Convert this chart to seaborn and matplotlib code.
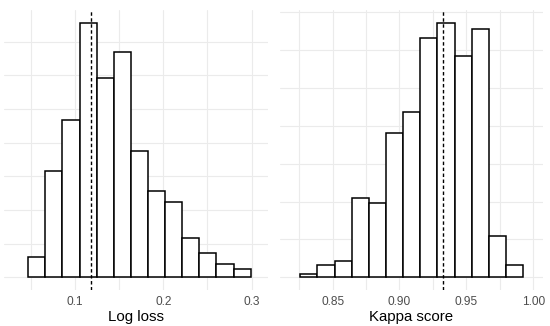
import numpy as np
import pandas as pd
import matplotlib
matplotlib.use("Agg")
import matplotlib.pyplot as plt
import seaborn as sns
from matplotlib.ticker import MultipleLocator, FormatStrFormatter

# Bootstrap distributions (13 bins each, counts)
logloss_range = (0.0469, 0.2991)
logloss_counts = [15, 79, 117, 189, 148, 167, 94, 64, 56, 29, 18, 10, 6]
logloss_mean = 0.1177

kappa_range = (0.8258, 0.9925)
kappa_counts = [2, 8, 11, 52, 49, 95, 109, 158, 168, 146, 164, 27, 8]
kappa_mean = 0.9325

sns.set_theme(style="whitegrid")
plt.rcParams['font.family'] = ['Liberation Sans', 'DejaVu Sans']

W, H = 550, 326
fig = plt.figure(figsize=(W / 100, H / 100), dpi=100)


def px_axes(x0, y0, x1, y1):
    # axes box given in pixels from the top-left corner
    return fig.add_axes([x0 / W, 1 - y1 / H, (x1 - x0) / W, (y1 - y0) / H])


def draw_hist(ax, rng, counts, mean, xlim, major, minor, fmt, label):
    nbins = len(counts)
    width = (rng[1] - rng[0]) / nbins
    centers = [rng[0] + width * (i + 0.5) for i in range(nbins)]
    df = pd.DataFrame({'value': centers, 'count': counts})
    sns.histplot(data=df, x='value', weights='count', bins=nbins, binrange=rng,
                 ax=ax, color='white', edgecolor='black', linewidth=1.1, alpha=1)
    ax.axvline(mean, color='black', lw=1.0, ls=(0, (2.5, 1.8)))
    top = max(counts)
    ax.set_xlim(*xlim)
    ax.set_ylim(-0.05 * top, 1.05 * top)
    ax.xaxis.set_major_locator(MultipleLocator(major))
    ax.xaxis.set_minor_locator(MultipleLocator(minor))
    ax.xaxis.set_major_formatter(FormatStrFormatter(fmt))
    ax.yaxis.set_major_locator(MultipleLocator(50))
    ax.yaxis.set_minor_locator(MultipleLocator(25))
    ax.grid(which='both', color='#EBEBEB', lw=0.8)
    ax.set_axisbelow(True)
    ax.tick_params(axis='y', which='both', left=False, labelleft=False)
    ax.tick_params(axis='x', which='both', bottom=False, length=0, pad=4,
                   labelsize=8.6, labelcolor='#4D4D4D')
    ax.set_ylabel('')
    ax.set_xlabel(label, fontsize=10.8, color='black', labelpad=2)
    for s in ax.spines.values():
        s.set_visible(False)


ax1 = px_axes(4, 10, 268, 290)
draw_hist(ax1, logloss_range, logloss_counts, logloss_mean,
          (0.0194, 0.3187), 0.1, 0.05, '%.1f', 'Log loss')

ax2 = px_axes(280, 10, 543, 290)
draw_hist(ax2, kappa_range, kappa_counts, kappa_mean,
          (0.8107, 1.0073), 0.05, 0.025, '%.2f', 'Kappa score')

fig.savefig('out.png', dpi=100, facecolor='white')
